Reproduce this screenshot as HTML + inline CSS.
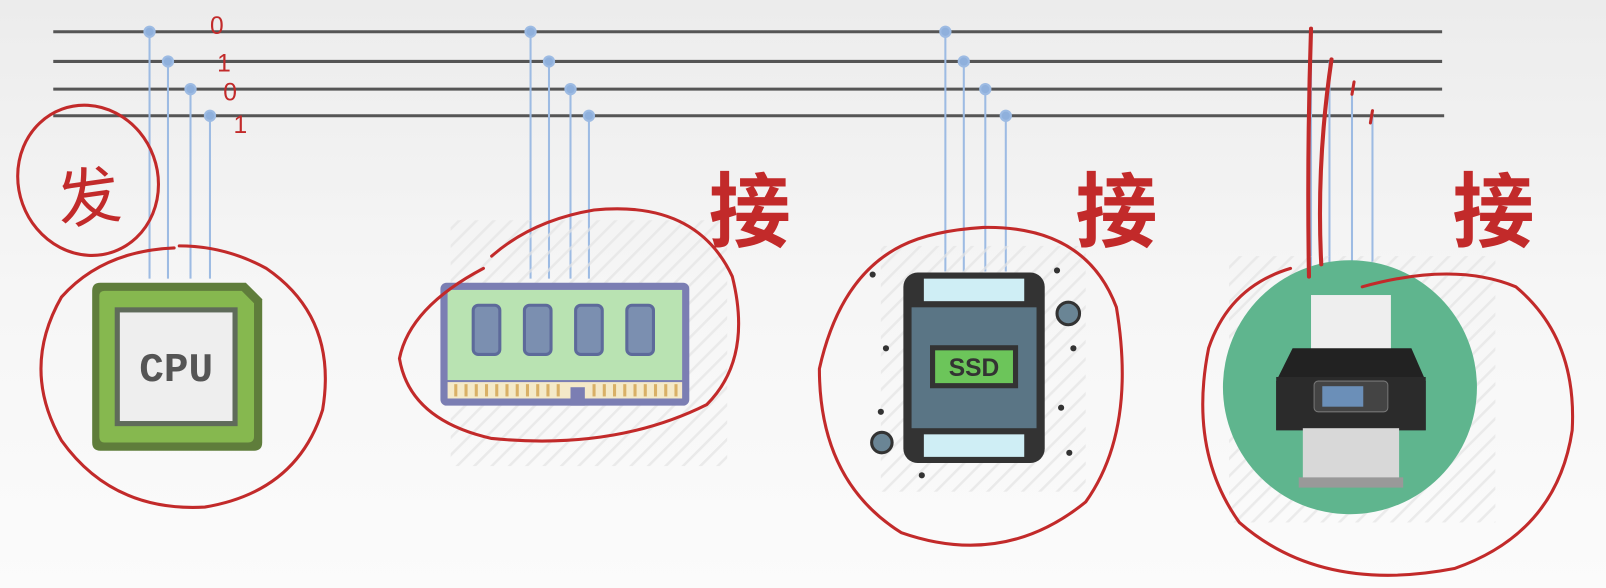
<!DOCTYPE html>
<html><head><meta charset="utf-8"><style>
html,body{margin:0;padding:0;width:1606px;height:588px;overflow:hidden;background:#fafafa}
svg{display:block}
</style></head><body>
<svg width="1606" height="588" viewBox="0 0 1568 574" preserveAspectRatio="none">
<defs>
<linearGradient id="bg" x1="0" y1="0" x2="0" y2="1"><stop offset="0" stop-color="#ececec"/><stop offset="0.5" stop-color="#f6f6f6"/><stop offset="1" stop-color="#fbfbfb"/></linearGradient>
<pattern id="hatch" width="12" height="12" patternUnits="userSpaceOnUse" patternTransform="rotate(45)"><rect width="12" height="12" fill="none"/><line x1="0" y1="0" x2="0" y2="12" stroke="#e4e4e4" stroke-width="5"/></pattern>
</defs>
<rect width="1568" height="574" fill="url(#bg)"/>

<g stroke="#555" stroke-width="3">
<line x1="52" y1="31" x2="1408" y2="31"/>
<line x1="52" y1="60" x2="1408" y2="60"/>
<line x1="52" y1="87" x2="1408" y2="87"/>
<line x1="52" y1="113" x2="1410" y2="113"/>
</g>

<g stroke="#9dbbe3" stroke-width="2" fill="#8fb0dc">
<line x1="146" y1="31" x2="146" y2="272"/><line x1="164" y1="60" x2="164" y2="272"/><line x1="186" y1="87" x2="186" y2="272"/><line x1="205" y1="113" x2="205" y2="272"/>
<circle cx="146" cy="31" r="5"/><circle cx="164" cy="60" r="5"/><circle cx="186" cy="87" r="5"/><circle cx="205" cy="113" r="5"/>
<line x1="518" y1="31" x2="518" y2="272"/><line x1="536" y1="60" x2="536" y2="272"/><line x1="557" y1="87" x2="557" y2="272"/><line x1="575" y1="113" x2="575" y2="272"/>
<circle cx="518" cy="31" r="5"/><circle cx="536" cy="60" r="5"/><circle cx="557" cy="87" r="5"/><circle cx="575" cy="113" r="5"/>
<line x1="923" y1="31" x2="923" y2="265"/><line x1="941" y1="60" x2="941" y2="265"/><line x1="962" y1="87" x2="962" y2="265"/><line x1="982" y1="113" x2="982" y2="265"/>
<circle cx="923" cy="31" r="5"/><circle cx="941" cy="60" r="5"/><circle cx="962" cy="87" r="5"/><circle cx="982" cy="113" r="5"/>
<line x1="1280" y1="31" x2="1280" y2="262"/><line x1="1298" y1="60" x2="1298" y2="262"/><line x1="1320" y1="87" x2="1320" y2="262"/><line x1="1340" y1="113" x2="1340" y2="262"/>
</g>

<rect x="440" y="215" width="270" height="240" fill="url(#hatch)" opacity="0.7"/>
<rect x="860" y="240" width="200" height="240" fill="url(#hatch)" opacity="0.7"/>
<rect x="1200" y="250" width="260" height="260" fill="url(#hatch)" opacity="0.7"/>

<g>
<path d="M98 276 H240 L256 292 V432 Q256 440 248 440 H98 Q90 440 90 432 V284 Q90 276 98 276Z" fill="#5f7d3b"/>
<path d="M102 284 H236 L248 296 V426 Q248 432 242 432 H102 Q97 432 97 426 V289 Q97 284 102 284Z" fill="#86b84f"/>
<rect x="112" y="300" width="120" height="116" fill="#5f6b5a"/>
<rect x="117" y="305" width="110" height="106" fill="#eeeeee"/>
<text x="172" y="372" text-anchor="middle" font-family="Liberation Mono, monospace" font-weight="bold" font-size="40" fill="#555">CPU</text>
</g>

<g>
<rect x="430" y="276" width="243" height="120" rx="6" fill="#7b7eb3"/>
<rect x="437" y="283" width="229" height="88" fill="#b9e3b2"/>
<rect x="437" y="373" width="229" height="16" fill="#f4e9c8"/>
<g stroke="#d9b066" stroke-width="3"><line x1="445" y1="375" x2="445" y2="387"/><line x1="455" y1="375" x2="455" y2="387"/><line x1="465" y1="375" x2="465" y2="387"/><line x1="475" y1="375" x2="475" y2="387"/><line x1="485" y1="375" x2="485" y2="387"/><line x1="495" y1="375" x2="495" y2="387"/><line x1="505" y1="375" x2="505" y2="387"/><line x1="515" y1="375" x2="515" y2="387"/><line x1="525" y1="375" x2="525" y2="387"/><line x1="535" y1="375" x2="535" y2="387"/><line x1="545" y1="375" x2="545" y2="387"/><line x1="580" y1="375" x2="580" y2="387"/><line x1="590" y1="375" x2="590" y2="387"/><line x1="600" y1="375" x2="600" y2="387"/><line x1="610" y1="375" x2="610" y2="387"/><line x1="620" y1="375" x2="620" y2="387"/><line x1="630" y1="375" x2="630" y2="387"/><line x1="640" y1="375" x2="640" y2="387"/><line x1="650" y1="375" x2="650" y2="387"/><line x1="660" y1="375" x2="660" y2="387"/></g>
<rect x="557" y="378" width="14" height="18" fill="#7b7eb3"/>
<g fill="#7b8fb0" stroke="#5d6a9a" stroke-width="3">
<rect x="462" y="298" width="26" height="48" rx="5"/><rect x="512" y="298" width="26" height="48" rx="5"/><rect x="562" y="298" width="26" height="48" rx="5"/><rect x="612" y="298" width="26" height="48" rx="5"/>
</g>
</g>

<g>
<rect x="882" y="266" width="138" height="186" rx="14" fill="#333"/>
<rect x="890" y="300" width="122" height="118" fill="#5a7585"/>
<rect x="902" y="272" width="98" height="22" fill="#cfeef5"/>
<rect x="902" y="424" width="98" height="22" fill="#cfeef5"/>
<rect x="908" y="337" width="86" height="42" fill="#333"/>
<rect x="913" y="342" width="76" height="32" fill="#6cc55a"/>
<text x="951" y="367" text-anchor="middle" font-family="Liberation Sans, sans-serif" font-weight="bold" font-size="24" fill="#333">SSD</text>
<circle cx="1043" cy="306" r="11" fill="#6a8595" stroke="#333" stroke-width="3"/>
<circle cx="861" cy="432" r="10" fill="#6a8595" stroke="#333" stroke-width="3"/>
<g fill="#333"><circle cx="852" cy="268" r="3"/><circle cx="1032" cy="264" r="3"/><circle cx="1048" cy="340" r="3"/><circle cx="865" cy="340" r="3"/><circle cx="860" cy="402" r="3"/><circle cx="1036" cy="398" r="3"/><circle cx="1044" cy="442" r="3"/><circle cx="900" cy="464" r="3"/></g>
</g>

<g>
<circle cx="1318" cy="378" r="124" fill="#5fb58e"/>
<rect x="1280" y="288" width="78" height="60" fill="#eeeeee"/>
<path d="M1262 340 H1378 L1392 372 V420 H1246 V372Z" fill="#222"/>
<rect x="1246" y="368" width="146" height="52" fill="#2b2b2b"/>
<rect x="1283" y="372" width="72" height="30" rx="4" fill="#444" stroke="#777"/>
<rect x="1291" y="377" width="40" height="20" fill="#6b8fb8"/>
<rect x="1272" y="418" width="94" height="50" fill="#d8d8d8"/>
<rect x="1268" y="466" width="102" height="10" fill="#999"/>
</g>

<g fill="none" stroke="#c22a2a" stroke-width="3" stroke-linecap="round">
<ellipse cx="86" cy="176" rx="68" ry="74" transform="rotate(-20 86 176)"/>
<path d="M170 242 Q100 245 60 290 Q20 360 60 430 Q110 500 200 495 Q290 480 315 400 Q330 310 260 262 Q220 240 175 240"/>
<path d="M472 262 Q400 300 390 350 Q400 410 480 428 Q600 440 690 395 Q735 350 715 270 Q680 195 580 205 Q520 215 480 250"/>
<path d="M880 240 Q820 270 800 360 Q800 470 880 520 Q980 555 1060 490 Q1110 420 1090 300 Q1060 220 960 222 Q910 225 880 240"/>
<path d="M1330 280 Q1420 255 1480 280 Q1540 330 1535 420 Q1520 520 1420 555 Q1290 580 1210 510 Q1160 440 1180 340 Q1200 280 1260 262"/>
<path d="M1280 28 Q1276 150 1278 270" stroke-width="4"/>
<path d="M1300 58 Q1285 160 1290 258" stroke-width="4"/>
<path d="M1322 80 L1320 92" /><path d="M1340 108 L1338 120"/>
</g>
<g font-family="Liberation Sans, Noto Sans CJK SC, sans-serif" fill="#c22a2a">
<text x="55" y="215" font-size="62" transform="rotate(-8 85 190)">发</text>
<text x="692" y="235" font-size="80" font-weight="bold">接</text>
<text x="1050" y="235" font-size="80" font-weight="bold">接</text>
<text x="1418" y="235" font-size="80" font-weight="bold">接</text>
<text x="205" y="33" font-size="24">0</text>
<text x="212" y="70" font-size="24">1</text>
<text x="218" y="98" font-size="24">0</text>
<text x="228" y="130" font-size="24">1</text>
</g>
</svg>
</body></html>
